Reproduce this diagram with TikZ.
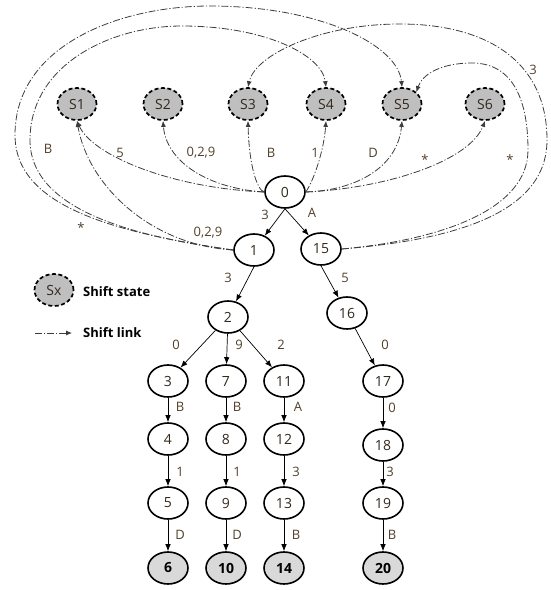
\documentclass[tikz,border=0pt]{standalone}
\usepackage{fontspec}
\setmainfont{Open Sans}
\usetikzlibrary{shapes.geometric,arrows.meta}
\definecolor{txt}{RGB}{50,40,30}
\definecolor{lbl}{RGB}{80,64,42}
\definecolor{linkc}{RGB}{60,60,60}
\definecolor{sfill}{RGB}{191,191,191}
\definecolor{tfill}{RGB}{217,217,217}
\begin{document}
\begin{tikzpicture}[x=1pt,y=-1pt,
  font=\fontsize{14}{16}\selectfont,
  state/.style={ellipse,draw=black,line width=1.6pt,minimum width=40pt,minimum height=32pt,inner sep=0pt,text=txt},
  final/.style={state,fill=tfill,font=\fontsize{14}{16}\selectfont\bfseries,text=black},
  shiftstate/.style={ellipse,draw=black,fill=sfill,line width=1.7pt,dash pattern=on 4pt off 2.5pt,minimum width=39pt,minimum height=32pt,inner sep=0pt,text=txt},
  edge/.style={-{Latex[length=7pt,width=5.5pt]},line width=0.7pt},
  link/.style={-{Latex[length=6pt,width=5pt]},draw=linkc,line width=0.8pt,dash pattern=on 7pt off 2pt on 1.2pt off 2pt},
  lab/.style={text=lbl,inner sep=1pt,font=\fontsize{13}{15}\selectfont},
  legend/.style={anchor=west,inner sep=0pt,font=\fontsize{13}{15}\selectfont\bfseries},
]
\useasboundingbox (0,0) rectangle (550,590);

% shift states
\node[shiftstate] (S1) at (77,104) {S1};
\node[shiftstate] (S2) at (163,104) {S2};
\node[shiftstate] (S3) at (248,104) {S3};
\node[shiftstate] (S4) at (326,104) {S4};
\node[shiftstate] (S5) at (402,104) {S5};
\node[shiftstate] (S6) at (485,104) {S6};

% trie states
\node[state] (n0)  at (285,192) {0};
\node[state] (n1)  at (254,250) {1};
\node[state] (n15) at (321,249) {15};
\node[state] (n2)  at (228,317) {2};
\node[state] (n16) at (347,313) {16};
\node[state] (n3)  at (168,381) {3};
\node[state] (n7)  at (226,381) {7};
\node[state] (n11) at (284,381) {11};
\node[state] (n4)  at (168,439) {4};
\node[state] (n8)  at (226,439) {8};
\node[state] (n12) at (284,439) {12};
\node[state] (n5)  at (168,503) {5};
\node[state] (n9)  at (226,503) {9};
\node[state] (n13) at (284,503) {13};
\node[final] (n6)  at (168,568) {6};
\node[final] (n10) at (226,568) {10};
\node[final] (n14) at (284,568) {14};
\node[state] (n17) at (383,381) {17};
\node[state] (n18) at (383,445) {18};
\node[state] (n19) at (383,503) {19};
\node[final] (n20) at (383,568) {20};

% trie edges
\draw[edge] (n0.south) -- (n1);
\draw[edge] (n0.south) -- (n15);
\draw[edge] (n1.south) -- (n2);
\draw[edge] (n15.south) -- (n16);
\draw[edge] (n2) -- (n3);
\draw[edge] (n2) -- (n7);
\draw[edge] (n2) -- (n11);
\draw[edge] (n3) -- (n4);
\draw[edge] (n4) -- (n5);
\draw[edge] (n5) -- (n6);
\draw[edge] (n7) -- (n8);
\draw[edge] (n8) -- (n9);
\draw[edge] (n9) -- (n10);
\draw[edge] (n11) -- (n12);
\draw[edge] (n12) -- (n13);
\draw[edge] (n13) -- (n14);
\draw[edge] (n16) -- (n17);
\draw[edge] (n17) -- (n18);
\draw[edge] (n18) -- (n19);
\draw[edge] (n19) -- (n20);

% edge labels
\node[lab] (e01)  at (265,215) {3};
\node[lab] (e015) at (312,213) {A};
\node[lab] (e12)  at (228,278) {3};
\node[lab] (e1516) at (345,278) {5};
\node[lab] (e23)  at (176,345) {0};
\node[lab] (e27)  at (239,345) {9};
\node[lab] (e211) at (281,345) {2};
\node[lab] (e34)  at (180,407) {B};
\node[lab] (e78)  at (237,407) {B};
\node[lab] (e1112) at (298,407) {A};
\node[lab] (e45)  at (180,472) {1};
\node[lab] (e89)  at (237,472) {1};
\node[lab] (e1213) at (296,472) {3};
\node[lab] (e56)  at (180,535) {D};
\node[lab] (e910) at (237,535) {D};
\node[lab] (e1314) at (296,535) {B};
\node[lab] (e1617) at (385,345) {0};
\node[lab] (e1718) at (392,408) {0};
\node[lab] (e1819) at (390,472) {3};
\node[lab] (e1920) at (392,535) {B};

% shift links from state 0
\draw[link] (n0.west) .. controls (170,188) and (92,155) .. (S1.south);
\draw[link] (n0.west) .. controls (205,188) and (166,160) .. (S2.south);
\draw[link] (n0.west) .. controls (257,190) and (249,165) .. (S3.south);
\draw[link] (n0.east) .. controls (314,180) and (324,150) .. (S4.south);
\draw[link] (n0.east) .. controls (360,190) and (398,165) .. (S5.south);
\draw[link] (n0.east) .. controls (390,188) and (470,160) .. (S6.south);

% shift links from state 1
\draw[link] (n1.west) .. controls (150,245) and (88,185) .. (S1.south);
\draw[link] (n1.west) .. controls (110,232) and (15,205) .. (15,135)
  .. controls (15,45) and (120,6) .. (210,6)
  .. controls (320,6) and (398,45) .. (S5.north);
\draw[link] (n1.west) .. controls (120,235) and (30,205) .. (30,140)
  .. controls (30,65) and (110,26) .. (182,26)
  .. controls (265,26) and (322,55) .. (S4.north);

% shift links from state 15
\draw[link] (n15.east) .. controls (450,240) and (547,215) .. (547,140)
  .. controls (547,60) and (485,24) .. (400,24)
  .. controls (320,24) and (255,55) .. (S3.north);
\draw[link] (n15.east) .. controls (440,240) and (528,210) .. (528,150)
  .. controls (528,95) and (510,63) .. (472,63)
  .. controls (440,63) and (422,75) .. (S5.north east);

% shift link labels
\node[lab] (l5)   at (120,153) {5};
\node[lab] (l029a) at (201,153) {0,2,9};
\node[lab] (lB3)  at (271,153) {B};
\node[lab] (l1)   at (315,153) {1};
\node[lab] (lD)   at (373,153) {D};
\node[lab] (ls6)  at (425,160) {*};
\node[lab] (ls15) at (510,160) {*};
\node[lab] (l3)   at (533,70) {3};
\node[lab] (lB1)  at (48,149) {B};
\node[lab] (ls1)  at (81,228) {*};
\node[lab] (l029b) at (208,233) {0,2,9};

% legend
\node[shiftstate] (key) at (54,290) {Sx};
\node[legend] (keytxt) at (83,292) {Shift state};
\coordinate (la) at (35,333);
\coordinate (lb) at (72,333);
\draw[link] (la) -- (lb);
\node[legend] (linktxt) at (83,333) {Shift link};
\end{tikzpicture}
\end{document}
